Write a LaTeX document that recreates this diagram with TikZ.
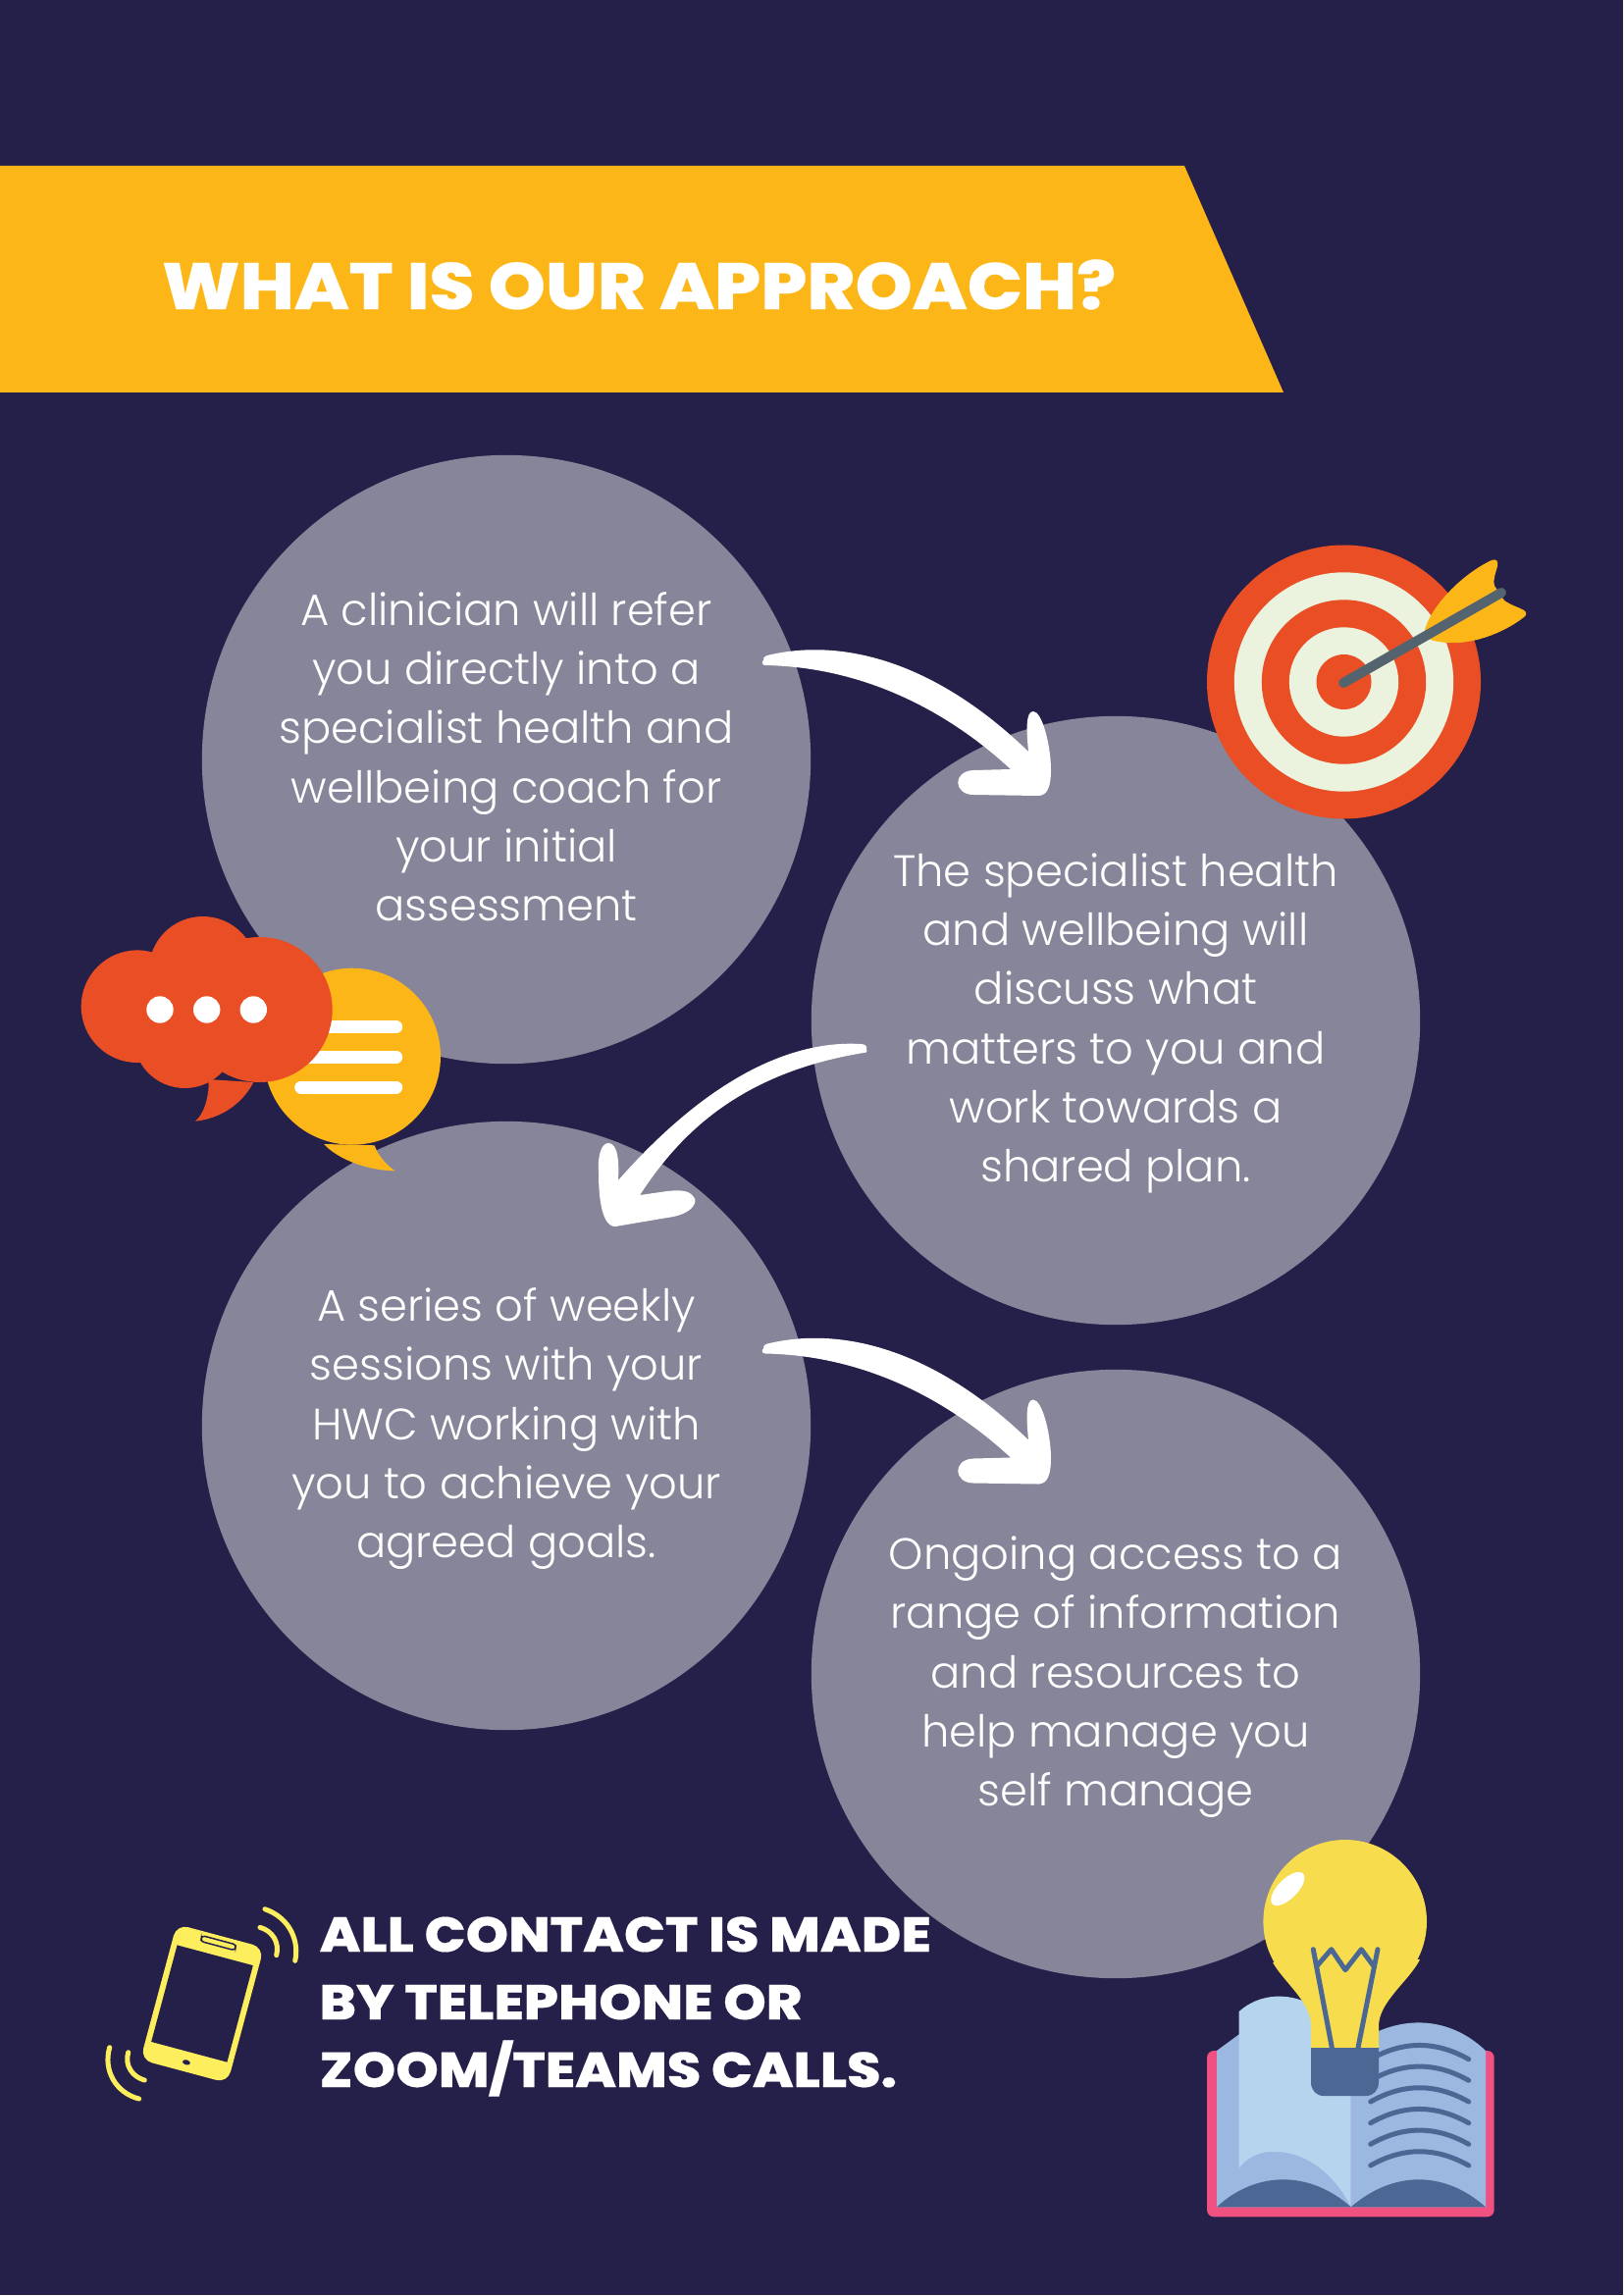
\documentclass[tikz,border=0pt]{standalone}
\usepackage{fontspec}
\usepackage{tikz}
\setmainfont{Poppins}
\newfontfamily\lightfont{Poppins Light}
\newfontfamily\heavyfont{Poppins ExtraBold}[FakeStretch=1.11, FakeBold=0.3]
\newcommand{\topline}{\rule{0pt}{13.1pt}}
\definecolor{navy}{HTML}{252049}
\definecolor{mist}{HTML}{868599}
\definecolor{amber}{HTML}{FCB618}
\definecolor{flame}{HTML}{E94E25}
\definecolor{cream}{HTML}{EBF3DE}
\definecolor{slate}{HTML}{54646F}
\definecolor{bulbyellow}{HTML}{F7DC4E}
\definecolor{phoneyellow}{HTML}{FDEE5E}
\definecolor{rosepink}{HTML}{EF5281}
\definecolor{pageblue}{HTML}{9BB8E0}
\definecolor{paleblue}{HTML}{B5D4EE}
\definecolor{inkblue}{HTML}{4B6894}

\begin{document}
\begin{tikzpicture}[x=0.01cm, y=-0.01cm,
    bubble/.style={circle, fill=mist, text=white, minimum size=6.2cm, inner sep=0pt, align=center, font=\lightfont\fontsize{12.75}{17.1}\selectfont, execute at end node=\strut},
    heading/.style={text=white, inner sep=0pt, font=\heavyfont\fontsize{19}{23}\selectfont},
    contact/.style={text=white, inner sep=0pt, align=left, font=\heavyfont\fontsize{14.2}{19.6}\selectfont},
    fibre/.style={line cap=round, line join=round, line width=0.05cm},
    swoop/.pic={
        \coordinate (-out) at (0,0);
        \coordinate (-tip) at (280,138);
        \fill[white] (-out) .. controls (-1,-2) and (1,-4) .. (4,-5) .. controls (82,-24) and (177,3) .. (270,93) .. controls (268,72) and (267,52) .. (275,52) .. controls (284,52) and (293,87) .. (293,112) .. controls (293,127) and (290,138) .. (-tip) -- (214,137) .. controls (194,137) and (192,113) .. (214,112) -- (252,111) .. controls (187,51) and (102,7) .. (2,5) .. controls (-2,5) and (-2,1) .. (-out) -- cycle;
    }]
    \useasboundingbox (0,0) rectangle (1655,2340);
    \fill[navy] (0,0) rectangle (1653.5,2338.5);
    \fill[amber] (0,169) -- (1207,169) -- (1308,400) -- (0,400) -- cycle;
    \node[heading] (title) at (651,290) {WHAT IS OUR APPROACH?};

    \node[bubble] (refer) at (516,774) {\topline A clinician will refer\\you directly into a\\specialist health and\\wellbeing coach for\\your initial\\assessment};
    \node[bubble] (discuss) at (1137,1040) {\topline The specialist health\\and wellbeing will\\discuss what\\matters to you and\\work towards a\\shared plan.};
    \node[bubble] (sessions) at (516,1453) {\topline A series of weekly\\sessions with your\\HWC working with\\you to achieve your\\agreed goals.};
    \node[bubble] (access) at (1137,1706) {\topline Ongoing access to a\\range of information\\and resources to\\help manage you\\self manage};

    \pic (first) at (778,673) {swoop};
    \pic (third) at (778,1374.5) {swoop};
    \coordinate (secondout) at (883,1069);
    \coordinate (secondtip) at (627,1250);
    \fill[white] (secondout) .. controls (884,1066) and (881,1064) .. (877,1064) .. controls (810,1060) and (725,1095) .. (630,1203) .. controls (631,1185) and (630,1165) .. (620,1165) .. controls (612,1165) and (609,1180) .. (610,1195) .. controls (610,1215) and (612,1250) .. (secondtip) -- (680,1241) .. controls (705,1238) and (712,1225) .. (707,1220) .. controls (702,1212) and (690,1213) .. (680,1214) -- (652,1218) .. controls (687,1165) and (745,1095) .. (880,1073) .. controls (884,1073) and (884,1071) .. (secondout) -- cycle;

    \foreach \ringr/\ringc in {139.5/flame, 111.7/cream, 83.7/flame, 55.7/cream, 28/flame}
        \fill[\ringc] (1369.5,695) circle [radius=\ringr];
    \fill[amber] (1452,642) .. controls (1458,618) and (1490,585) .. (1520,571) .. controls (1525,569) and (1527,572) .. (1526,577) .. controls (1524,585) and (1521,592) .. (1523,597) -- (1533,612) .. controls (1540,617) and (1548,619) .. (1553,622) .. controls (1556,624) and (1556,627) .. (1553,629) .. controls (1530,647) and (1490,662) .. (1458,652) -- cycle;
    \draw[slate, line width=0.1cm, line cap=round] (1369,696) -- (1530,604);

    \fill[amber] (359,1076.7) circle [radius=90];
    \fill[amber] (330,1166) .. controls (345,1182) and (375,1193) .. (402.7,1193.3) .. controls (393,1187) and (385,1177) .. (381.7,1167.3) -- cycle;
    \foreach \barw in {1046.7, 1077.3, 1108}
        \draw[white, line width=0.13cm, line cap=round] (306.7,\barw) -- (403.7,\barw);
    \foreach \lobex/\lobey/\lober in {140/1025.7/57.3, 206.7/989/55, 264.7/1029/74, 188.3/1056.7/52.3}
        \fill[flame] (\lobex,\lobey) circle [radius=\lober];
    \fill[flame] (212,1100) -- (212.7,1106) .. controls (212,1120) and (208,1135) .. (199,1142.7) .. controls (225,1140) and (247,1125) .. (258.3,1103) -- cycle;
    \foreach \dotx in {163, 210.7, 258.3}
        \fill[white] (\dotx,1029) circle [radius=13.7];

    \fill[rosepink, rounded corners=0.07cm] (1230,2090) rectangle (1522.7,2259.3);
    \fill[pageblue] (1376.7,2249.3) -- (1376.7,2080) -- (1405,2070) .. controls (1445,2053) and (1485,2062) .. (1514,2090) -- (1514,2249.3) -- cycle;
    \fill[pageblue] (1240,2090) -- (1262.7,2073.3) -- (1376.7,2073.3) -- (1376.7,2249.3) -- (1240,2249.3) -- cycle;
    \fill[paleblue] (1262.7,2050) .. controls (1285,2030) and (1315,2032) .. (1333,2041.7) -- (1376.7,2060) -- (1376.7,2249.3) .. controls (1360,2215) and (1330,2193) .. (1300,2193) .. controls (1285,2192) and (1272,2198) .. (1262.7,2209.3) -- cycle;
    \fill[inkblue] (1240,2249.3) .. controls (1280,2212) and (1335,2212) .. (1376.7,2249.3) -- cycle;
    \fill[inkblue] (1376.7,2249.3) .. controls (1420,2212) and (1472,2212) .. (1514,2249.3) -- cycle;
    \foreach \rowy in {2098.7, 2120.3, 2142, 2163.7, 2185.3, 2207}
        \draw[inkblue, fibre] (1396.7,\rowy) .. controls (1430,\rowy-19) and (1463,\rowy-19) .. (1496.7,\rowy);

    \fill[bulbyellow] (1370.7,1958.3) circle [radius=83.3];
    \fill[bulbyellow] (1297,2000) .. controls (1309,2021) and (1336,2040) .. (1336,2065) -- (1336,2087) -- (1405,2087) -- (1405,2065) .. controls (1405,2040) and (1436,2019) .. (1447,1997) -- cycle;
    \fill[white, rotate around={45:(1312.3,1925)}] (1312.3,1925) ellipse [x radius=22, y radius=10];
    \draw[inkblue, fibre] (1338.3,1986.7) -- (1357.3,2086.7) (1404,1986.7) -- (1384,2086.7);
    \draw[inkblue, fibre] (1341.7,2004) -- (1356.7,1986.7) -- (1371,2007.7) -- (1387.3,1986.7) -- (1400,2004);
    \fill[inkblue] (1336,2087) -- (1405,2087) -- (1405,2122) .. controls (1405,2130) and (1400,2136) .. (1392,2136) -- (1349,2136) .. controls (1341,2136) and (1336,2130) .. (1336,2122) -- cycle;

    \begin{scope}[shift={(206,2042)}, rotate=-15]
        \fill[phoneyellow, rounded corners=0.12cm] (-46,-71.5) rectangle (46,71.5);
        \fill[navy] (-40,-51) rectangle (40,51);
        \draw[navy, fill=phoneyellow, line width=0.015cm, rounded corners=0.03cm] (-18,-67) rectangle (18,-61);
        \fill[navy] (0,62) ellipse [x radius=4, y radius=2.5];
    \end{scope}
    \draw[phoneyellow, fibre] (270,1945.7) .. controls (296.7,1955) and (305,1980) .. (300.7,1998.3);
    \draw[phoneyellow, fibre] (265,1964.3) .. controls (278,1968) and (285,1980) .. (281.7,1992.7);
    \draw[phoneyellow, fibre] (111.7,2086.7) .. controls (105,2110) and (118,2133) .. (141.7,2139);
    \draw[phoneyellow, fibre] (130.7,2091.7) .. controls (126.7,2105) and (135,2116.7) .. (147.3,2120);
    \node[contact, anchor=west] (calls) at (325,2045) {ALL CONTACT IS MADE\\BY TELEPHONE OR\\ZOOM/TEAMS CALLS.};
\end{tikzpicture}
\end{document}
